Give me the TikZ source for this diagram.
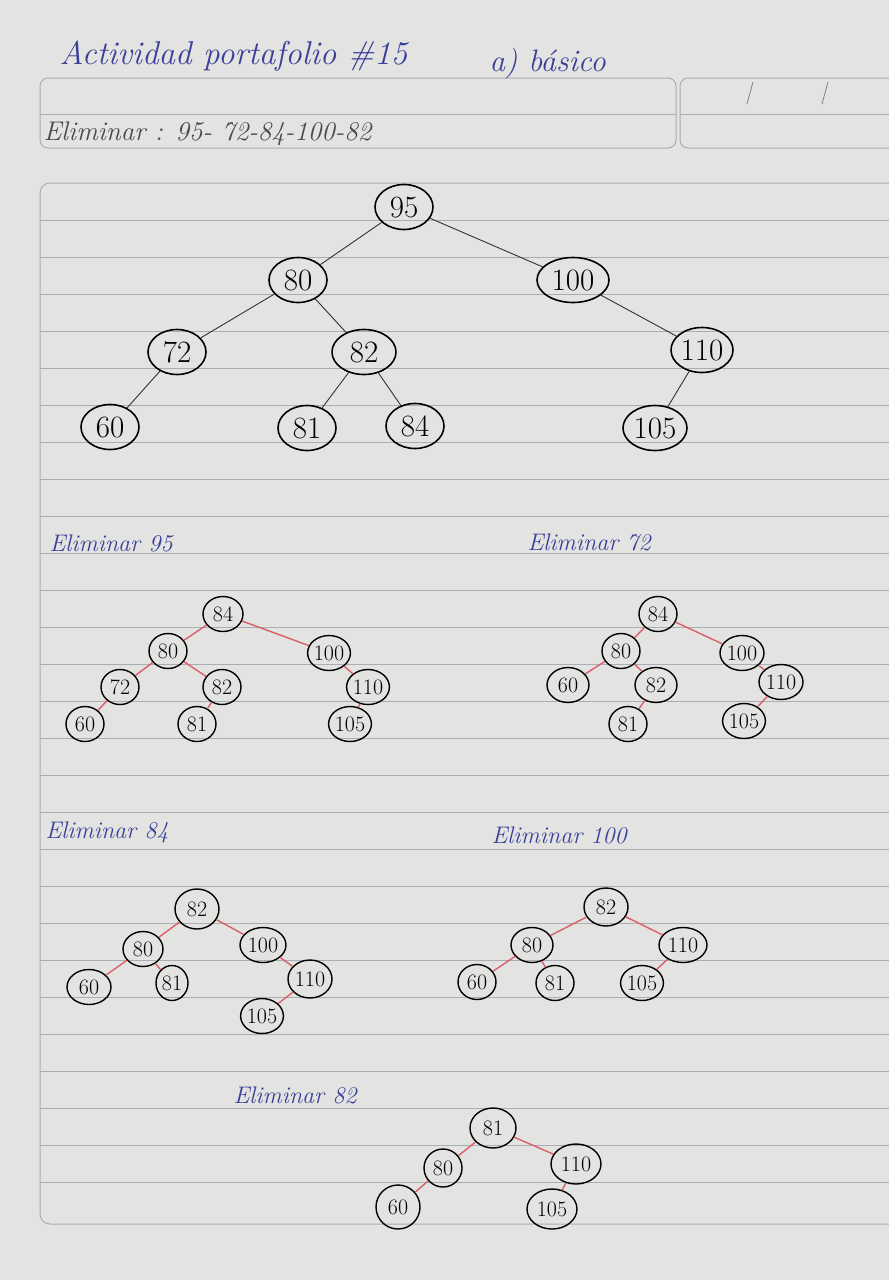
\documentclass[tikz,border=0pt]{standalone}
\usepackage{fontspec}
\usetikzlibrary{shapes.geometric}
\definecolor{paper}{HTML}{E3E3E1}
\definecolor{rule}{HTML}{A9ADB4}
\definecolor{ink}{HTML}{3A3F9A}
\definecolor{pencil}{HTML}{4A4A4A}
\definecolor{redline}{HTML}{D9606A}
\tikzset{
  big/.style={ellipse,draw=black,line width=1.6pt,inner sep=0pt,minimum width=58pt,minimum height=45pt,font=\fontsize{31}{33}\selectfont},
  small/.style={ellipse,draw=black,line width=1.4pt,inner sep=0pt,minimum width=38pt,minimum height=35pt,font=\fontsize{22}{24}\selectfont},
  blackedge/.style={draw=black!80,line width=0.9pt},
  rededge/.style={draw=redline,line width=1.4pt},
  lbl/.style={anchor=west,text=ink,font=\itshape\fontsize{24}{26}\selectfont},
}
\begin{document}
\begin{tikzpicture}[x=1pt,y=-1pt]
\useasboundingbox (0,0) rectangle (889,1280);
\fill[paper] (0,0) rectangle (889,1280);
% header boxes
\draw[rule,line width=1pt,rounded corners=8pt] (40,78) rectangle (676,148);
\draw[rule,line width=1pt] (40,114) -- (676,114);
\draw[rule,line width=1pt,rounded corners=8pt] (680,78) rectangle (905,148);
\draw[rule,line width=1pt] (680,114) -- (889,114);
\draw[pencil!70,line width=0.8pt] (753,82) -- (747,104);
\draw[pencil!70,line width=0.8pt] (828,82) -- (822,104);
% main ruled box
\draw[rule,line width=1pt,rounded corners=10pt] (40,183) rectangle (905,1224);
\foreach \k in {1,...,27} { \draw[rule,line width=0.9pt] (40,183+37*\k) -- (889,183+37*\k); }
% texts
\node[anchor=west,text=ink,font=\itshape\fontsize{33}{35}\selectfont] (title) at (56,56) {Actividad portafolio \#15};
\node[anchor=west,text=ink,font=\itshape\fontsize{31}{33}\selectfont] (sub) at (486,64) {a) básico};
\node[anchor=west,text=pencil,font=\itshape\fontsize{27}{29}\selectfont] (elim) at (40,134) {Eliminar : 95- 72-84-100-82};
% main tree
\node[big] (a95) at (404,207) {95};
\node[big] (a80) at (298,280) {80};
\node[big,minimum width=72pt] (a100) at (573,280) {100};
\node[big] (a72) at (177,352) {72};
\node[big,minimum width=64pt] (a82) at (364,352) {82};
\node[big,minimum width=62pt] (a110) at (702,350) {110};
\node[big] (a60) at (110,427) {60};
\node[big] (a81) at (307,428) {81};
\node[big] (a84) at (415,426) {84};
\node[big,minimum width=64pt] (a105) at (655,428) {105};
\foreach \p/\c in {a95/a80,a95/a100,a80/a72,a80/a82,a72/a60,a82/a81,a82/a84,a100/a110,a110/a105}
  \draw[blackedge] (\p) -- (\c);
% Eliminar 95
\node[lbl] (l1) at (46,543) {Eliminar 95};
\node[small,minimum width=40pt] (b84) at (223,614) {84};
\node[small] (b80) at (168,651) {80};
\node[small,minimum width=40pt] (b100) at (329,653) {100};
\node[small] (b72) at (120,687) {72};
\node[small] (b82) at (222,687) {82};
\node[small] (b110) at (368,687) {110};
\node[small] (b60) at (85,724) {60};
\node[small] (b81) at (197,724) {81};
\node[small,minimum width=40pt] (b105) at (350,724) {105};
\foreach \p/\c in {b84/b80,b84/b100,b80/b72,b80/b82,b72/b60,b82/b81,b100/b110,b110/b105}
  \draw[rededge] (\p) -- (\c);
% Eliminar 72
\node[lbl] (l2) at (524,542) {Eliminar 72};
\node[small] (c84) at (658,614) {84};
\node[small] (c80) at (621,651) {80};
\node[small,minimum width=44pt] (c100) at (742,653) {100};
\node[small,minimum width=42pt] (c60) at (568,685) {60};
\node[small,minimum width=42pt] (c82) at (656,685) {82};
\node[small,minimum width=44pt] (c110) at (781,682) {110};
\node[small] (c81) at (628,724) {81};
\node[small,minimum width=40pt] (c105) at (744,721) {105};
\foreach \p/\c in {c84/c80,c84/c100,c80/c60,c80/c82,c82/c81,c100/c110,c110/c105}
  \draw[rededge] (\p) -- (\c);
% Eliminar 84
\node[lbl] (l3) at (42,832) {Eliminar 84};
\node[small,minimum width=44pt,minimum height=40pt] (d82) at (197,909) {82};
\node[small,minimum width=40pt] (d80) at (143,949) {80};
\node[small,minimum width=46pt] (d100) at (263,945) {100};
\node[small,minimum width=44pt] (d60) at (89,987) {60};
\node[small,minimum width=32pt] (d81) at (172,983) {81};
\node[small,minimum width=44pt,minimum height=38pt] (d110) at (310,979) {110};
\node[small,minimum width=42pt] (d105) at (262,1016) {105};
\foreach \p/\c in {d82/d80,d82/d100,d80/d60,d80/d81,d100/d110,d110/d105}
  \draw[rededge] (\p) -- (\c);
% Eliminar 100
\node[lbl] (l4) at (488,835) {Eliminar 100};
\node[small,minimum width=44pt,minimum height=38pt] (e82) at (606,907) {82};
\node[small,minimum width=42pt] (e80) at (532,945) {80};
\node[small,minimum width=48pt] (e110) at (683,945) {110};
\node[small] (e60) at (477,982) {60};
\node[small] (e81) at (555,983) {81};
\node[small,minimum width=40pt] (e105) at (642,983) {105};
\foreach \p/\c in {e82/e80,e82/e110,e80/e60,e80/e81,e110/e105}
  \draw[rededge] (\p) -- (\c);
% Eliminar 82
\node[lbl] (l5) at (230,1095) {Eliminar 82};
\node[small,minimum width=46pt,minimum height=40pt] (f81) at (493,1128) {81};
\node[small,minimum width=38pt,minimum height=38pt] (f80) at (443,1168) {80};
\node[small,minimum width=50pt,minimum height=40pt] (f110) at (576,1164) {110};
\node[small,minimum width=44pt,minimum height=44pt] (f60) at (398,1207) {60};
\node[small,minimum width=50pt,minimum height=40pt] (f105) at (552,1209) {105};
\foreach \p/\c in {f81/f80,f81/f110,f80/f60,f110/f105}
  \draw[rededge] (\p) -- (\c);
\end{tikzpicture}
\end{document}
